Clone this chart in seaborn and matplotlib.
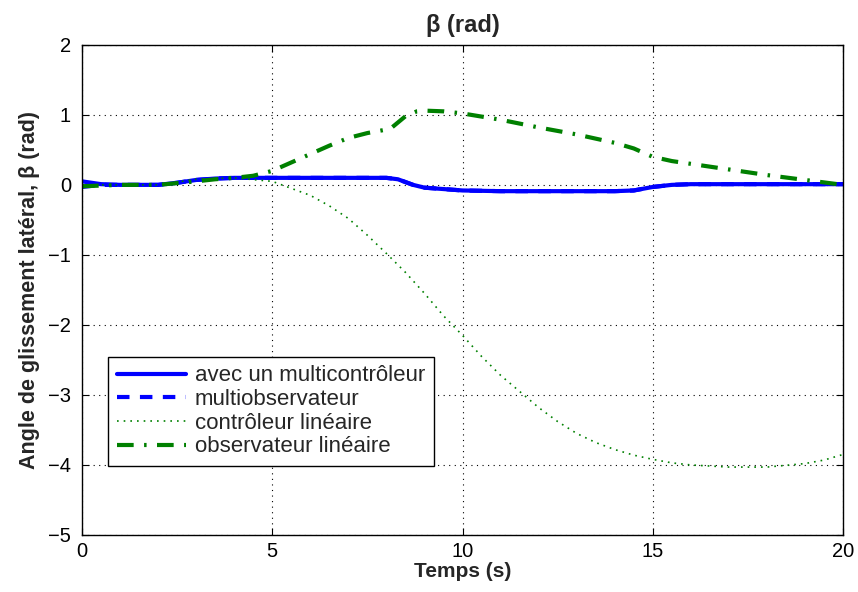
import numpy as np
import pandas as pd
import matplotlib
matplotlib.use("Agg")
import matplotlib.pyplot as plt
import seaborn as sns

# ---- data ----
t_multi = [0, 0.5, 1, 2, 2.5, 3, 3.5, 4, 5, 6, 7, 8, 8.3, 8.7, 9, 10, 11, 12, 13, 14, 14.5, 15, 15.5, 16, 18, 20]
beta_multictrl = [0.05, 0.01, 0, 0, 0.03, 0.07, 0.09, 0.1, 0.1, 0.1, 0.1, 0.1, 0.08, 0.0, -0.04, -0.08, -0.09, -0.09, -0.09, -0.09, -0.08, -0.03, 0.0, 0.01, 0.01, 0.01]
beta_multiobs = [-0.03, 0.0, 0, 0, 0.03, 0.07, 0.09, 0.1, 0.1, 0.1, 0.1, 0.1, 0.08, 0.0, -0.04, -0.08, -0.09, -0.09, -0.09, -0.09, -0.08, -0.03, 0.0, 0.01, 0.01, 0.01]

t_lin = [0, 1, 2, 3, 4, 5, 5.5, 6, 6.5, 7, 7.5, 8, 8.5, 9, 9.5, 10, 10.5, 11, 11.5, 12, 12.5, 13, 13.5, 14, 14.5, 15, 15.5, 16, 17, 18, 19, 19.5, 20]
beta_linctrl = [0, 0, 0, 0.08, 0.1, 0.05, -0.05, -0.15, -0.3, -0.48, -0.72, -0.98, -1.25, -1.55, -1.87, -2.15, -2.45, -2.72, -2.95, -3.18, -3.38, -3.55, -3.68, -3.78, -3.86, -3.92, -3.97, -4.0, -4.03, -4.03, -3.98, -3.93, -3.85]

t_obs = [0, 1, 2, 3, 3.5, 4, 4.5, 5, 5.5, 6, 6.5, 7, 7.5, 8, 8.1, 8.5, 8.8, 9, 9.5, 10, 11, 12, 13, 14, 14.5, 15, 15.5, 16, 17, 18, 19, 20]
beta_linobs = [-0.02, 0, 0, 0.05, 0.08, 0.1, 0.13, 0.2, 0.32, 0.44, 0.56, 0.67, 0.74, 0.79, 0.8, 0.98, 1.05, 1.06, 1.05, 1.02, 0.93, 0.82, 0.72, 0.6, 0.52, 0.4, 0.34, 0.3, 0.22, 0.14, 0.07, 0.0]

labels = ["avec un multicontrôleur", "multiobservateur", "contrôleur linéaire", "observateur linéaire"]
xticks = [0, 5, 10, 15, 20]
yticks = [-5, -4, -3, -2, -1, 0, 1, 2]

sns.set_style("white")
plt.rcParams["font.family"] = ["Liberation Sans", "DejaVu Sans"]

fig = plt.figure(figsize=(8.58, 5.92), dpi=100)
ax = fig.add_axes([0.0956, 0.0963, 0.887, 0.828])

blue = "#0000FF"
green = "#008000"

sns.lineplot(x=t_multi, y=beta_multictrl, ax=ax, color=blue, lw=3, linestyle="-", label=labels[0])
sns.lineplot(x=t_multi, y=beta_multiobs, ax=ax, color=blue, lw=3, linestyle=(0, (3, 2.5)), label=labels[1])
sns.lineplot(x=t_lin, y=beta_linctrl, ax=ax, color=green, lw=1.2, linestyle=(0, (1, 3)), label=labels[2])
sns.lineplot(x=t_obs, y=beta_linobs, ax=ax, color=green, lw=3, linestyle=(0, (4, 2.5, 0.6, 2.5)), label=labels[3])

ax.set_xlim(0, 20)
ax.set_ylim(-5, 2)
ax.set_xticks(xticks)
ax.set_yticks(yticks)
ax.set_yticklabels([("\u2212" + str(abs(v))) if v < 0 else str(v) for v in yticks])
ax.grid(True, color="black", linestyle=(0, (1, 4)), linewidth=0.8)
for s in ax.spines.values():
    s.set_color("black")
    s.set_linewidth(1.0)
ax.tick_params(axis="both", direction="in", length=5, labelsize=14.5, colors="black",
               top=True, right=True, bottom=True, left=True)
ax.tick_params(axis="y", pad=8)
ax.tick_params(axis="x", pad=5)

ax.set_xlabel("Temps (s)", fontsize=15, fontweight="bold", labelpad=1)
ax.set_ylabel("Angle de glissement latéral, \u03b2 (rad)", fontsize=15.5, fontweight="bold", labelpad=6)
ax.set_title("\u03b2 (rad)", fontsize=17, fontweight="bold", pad=9)

leg = ax.legend(loc="upper left", bbox_to_anchor=(0.034, 0.364), fontsize=16, frameon=True,
                fancybox=False, edgecolor="black", framealpha=1, borderpad=0.4,
                labelspacing=0.12, handlelength=3.1, handletextpad=0.4, borderaxespad=0)
leg.get_frame().set_linewidth(1.0)

fig.savefig("out.png", dpi=100)
